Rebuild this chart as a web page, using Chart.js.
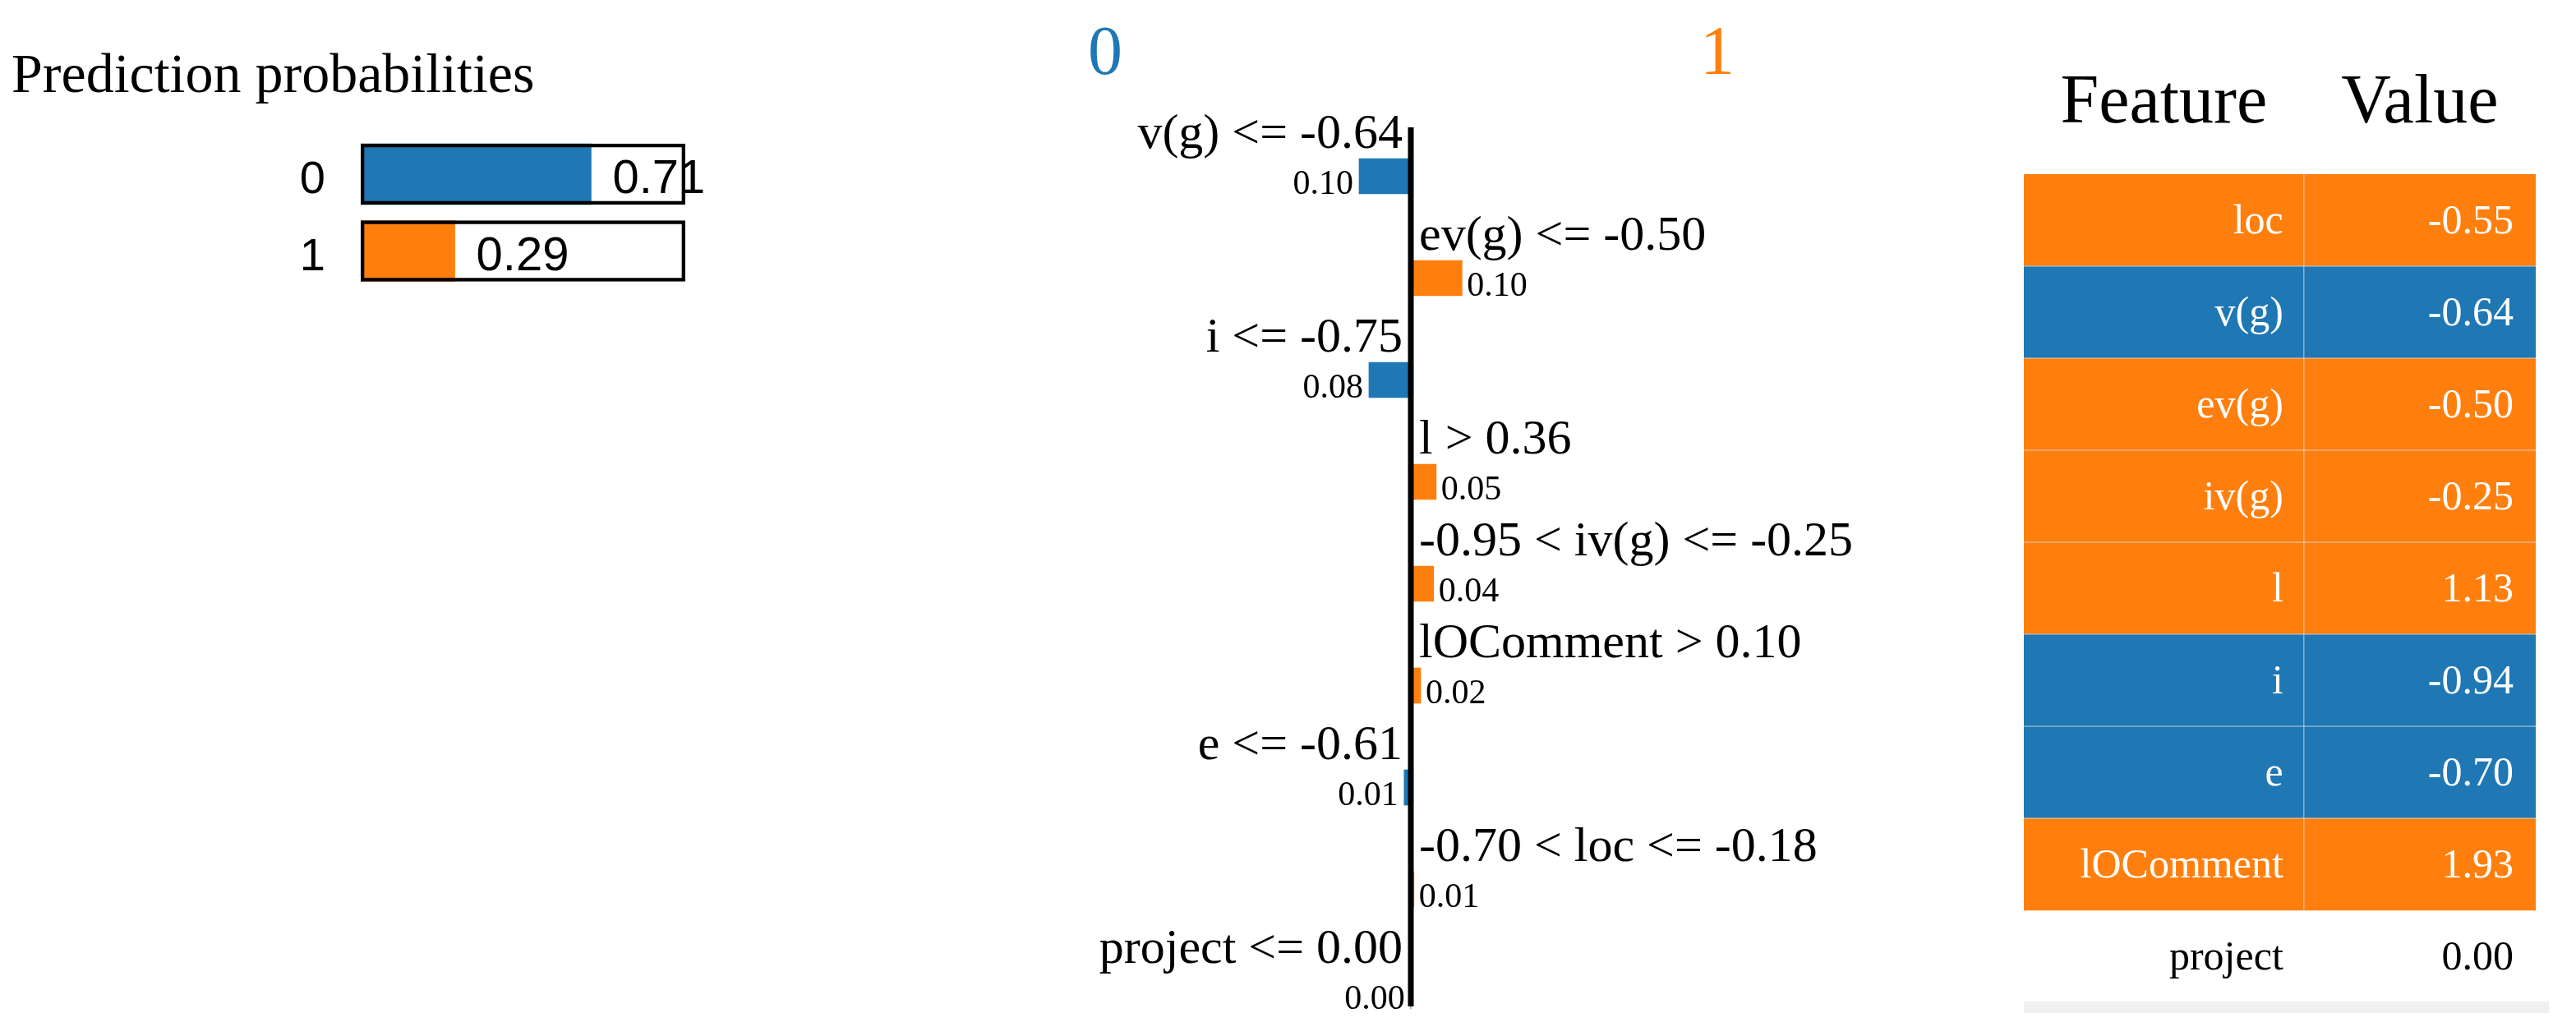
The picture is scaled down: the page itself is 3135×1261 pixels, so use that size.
<!DOCTYPE html>
<html>
<head>
<meta charset="utf-8">
<title>Explicação LIME</title>
<script src="https://cdn.jsdelivr.net/npm/chart.js@4.4.1/dist/chart.umd.min.js"></script>
<style>
    html, body { margin: 0; padding: 0; background: #fff; overflow: hidden; }
    body { width: 3135px; height: 1261px; position: relative; }
    canvas { position: absolute; top: 0; }
    #predChart { left: 0; }
    #expChart { left: 1200px; }
    #tableChart { left: 2400px; }
</style>
</head>
<body>
<canvas id="predChart" width="900" height="400"></canvas>
<canvas id="expChart" width="1080" height="1261"></canvas>
<canvas id="tableChart" width="735" height="1261"></canvas>

<script>
// prediction probabilities
const predClasses = ['0', '1'];
const predProbs = [0.71, 0.29];

// explanation weights (negative = class 0, positive = class 1)
const expLabels = [
    'v(g) <= -0.64',
    'ev(g) <= -0.50',
    'i <= -0.75',
    'l > 0.36',
    '-0.95 < iv(g) <= -0.25',
    'lOComment > 0.10',
    'e <= -0.61',
    '-0.70 < loc <= -0.18',
    'project <= 0.00'
];
const expWeights = [-0.100, 0.099, -0.081, 0.049, 0.044, 0.019, -0.013, 0.006, -0.0004];

// feature / value table
const tableFeatures = ['loc', 'v(g)', 'ev(g)', 'iv(g)', 'l', 'i', 'e', 'lOComment', 'project'];
const tableValues = [-0.55, -0.64, -0.50, -0.25, 1.13, -0.94, -0.70, 1.93, 0.00];
const tableClass = [1, 0, 1, 1, 1, 0, 0, 1, null];

const BLUE = '#1f77b4';
const ORANGE = '#ff7f0e';
const classColors = [BLUE, ORANGE];
const SERIF = '"Liberation Serif", "Times New Roman", serif';
const SANS = '"Liberation Sans", Arial, sans-serif';

const baseOptions = {
    responsive: false,
    animation: false,
    events: [],
    indexAxis: 'y',
    plugins: {
        legend: { display: false },
        tooltip: { enabled: false }
    }
};

// ---------- prediction probabilities ----------
const predText = {
    id: 'predText',
    afterDatasetsDraw: function (chart) {
        const ctx = chart.ctx;
        const x = chart.scales.x;
        const y = chart.scales.y;
        ctx.save();
        ctx.fillStyle = '#000';
        ctx.textAlign = 'left';
        ctx.textBaseline = 'alphabetic';
        ctx.font = '68px ' + SERIF;
        ctx.fillText('Prediction probabilities', 14, 112);

        predClasses.forEach((c, i) => {
            const yc = y.getPixelForValue(i);
            ctx.font = '56px ' + SANS;
            ctx.textAlign = 'right';
            ctx.fillText(c, chart.chartArea.left - 43, yc + 23);
            ctx.font = '58px ' + SANS;
            ctx.textAlign = 'left';
            ctx.fillText(predProbs[i].toFixed(2), x.getPixelForValue(predProbs[i]) + 26, yc + 23);
        });
        ctx.restore();
    }
};

new Chart(document.getElementById('predChart'), {
    type: 'bar',
    data: {
        labels: predClasses,
        datasets: [
            {
                data: predProbs,
                backgroundColor: classColors,
                barThickness: 74,
                grouped: false,
                order: 1
            },
            {
                data: predClasses.map(() => 1),
                backgroundColor: 'rgba(0,0,0,0)',
                borderColor: '#000',
                borderWidth: 4,
                borderSkipped: false,
                barThickness: 74,
                grouped: false,
                order: 0
            }
        ]
    },
    options: Object.assign({}, baseOptions, {
        layout: { padding: { left: 439, right: 66, top: 165.25, bottom: 47.75 } },
        scales: {
            x: { display: false, min: 0, max: 1 },
            y: { display: false }
        }
    }),
    plugins: [predText]
});

// ---------- explanation ----------
const expText = {
    id: 'expText',
    afterDatasetsDraw: function (chart) {
        const ctx = chart.ctx;
        const x = chart.scales.x;
        const y = chart.scales.y;
        const x0 = x.getPixelForValue(0);
        const half = 21.5;
        ctx.save();

        // class headers
        ctx.font = '84px ' + SERIF;
        ctx.textAlign = 'center';
        ctx.textBaseline = 'alphabetic';
        ctx.fillStyle = BLUE;
        ctx.fillText('0', x0 - 372, 90);
        ctx.fillStyle = ORANGE;
        ctx.fillText('1', x0 + 373, 90);

        // zero axis
        const top = y.getPixelForValue(0) - half - 38;
        const bottom = y.getPixelForValue(expLabels.length - 1) + half - 3;
        ctx.fillStyle = '#000';
        ctx.fillRect(x0 - 3.5, top, 7, bottom - top);

        expLabels.forEach((label, i) => {
            const w = expWeights[i];
            const yc = y.getPixelForValue(i);
            const xe = x.getPixelForValue(w);
            ctx.fillStyle = '#000';
            ctx.font = '60px ' + SERIF;
            ctx.textAlign = w < 0 ? 'right' : 'left';
            ctx.fillText(label, w < 0 ? x0 - 10 : x0 + 10, yc - half - 13);
            ctx.font = '42px ' + SERIF;
            ctx.fillText(Math.abs(w).toFixed(2), w < 0 ? xe - 7 : xe + 6, yc + half);
        });
        ctx.restore();
    }
};

const expPxPerUnit = 630;
const expZero = 517;

new Chart(document.getElementById('expChart'), {
    type: 'bar',
    data: {
        labels: expLabels,
        datasets: [{
            data: expWeights,
            backgroundColor: expWeights.map(w => w < 0 ? BLUE : ORANGE),
            barThickness: 43,
            clip: false
        }]
    },
    options: Object.assign({}, baseOptions, {
        layout: { padding: { left: 0, right: 0, top: 214.5, bottom: 54.5 } },
        scales: {
            x: { display: false, min: -expZero / expPxPerUnit, max: (1080 - expZero) / expPxPerUnit },
            y: { display: false, offset: false }
        }
    }),
    plugins: [expText]
});

// ---------- feature / value table ----------
const colSplit = 0.547;

const tableText = {
    id: 'tableText',
    afterDatasetsDraw: function (chart) {
        const ctx = chart.ctx;
        const x = chart.scales.x;
        const y = chart.scales.y;
        const area = chart.chartArea;
        const xs = x.getPixelForValue(colSplit);
        const rowH = y.getPixelForValue(1) - y.getPixelForValue(0);
        ctx.save();

        // headers
        ctx.fillStyle = '#000';
        ctx.font = '84px ' + SERIF;
        ctx.textAlign = 'center';
        ctx.fillText('Feature', (area.left + xs) / 2, 149);
        ctx.fillText('Value', (xs + area.right) / 2, 149);

        // cell borders
        ctx.strokeStyle = 'rgba(215,215,215,0.6)';
        ctx.lineWidth = 1.5;
        let lastColored = 0;
        tableFeatures.forEach((f, i) => {
            if (tableClass[i] !== null) lastColored = i;
        });
        for (let i = 1; i <= lastColored; i++) {
            const yb = y.getPixelForValue(i) - rowH / 2;
            ctx.beginPath();
            ctx.moveTo(area.left, yb);
            ctx.lineTo(area.right, yb);
            ctx.stroke();
        }
        ctx.beginPath();
        ctx.moveTo(xs, area.top);
        ctx.lineTo(xs, y.getPixelForValue(lastColored) + rowH / 2);
        ctx.stroke();

        // cell text
        ctx.font = '50px ' + SERIF;
        ctx.textAlign = 'right';
        tableFeatures.forEach((f, i) => {
            const yc = y.getPixelForValue(i);
            ctx.fillStyle = tableClass[i] === null ? '#000' : '#fff';
            ctx.fillText(f, xs - 25, yc + 16);
            ctx.fillText(tableValues[i].toFixed(2), area.right - 27, yc + 16);
        });

        // scroll strip under the table
        ctx.fillStyle = '#f0f0f0';
        ctx.fillRect(area.left, area.bottom - 1, area.right - area.left + 16, 14);
        ctx.restore();
    }
};

new Chart(document.getElementById('tableChart'), {
    type: 'bar',
    data: {
        labels: tableFeatures,
        datasets: [{
            data: tableFeatures.map(() => 1),
            backgroundColor: tableClass.map(c => c === null ? 'rgba(0,0,0,0)' : classColors[c]),
            barPercentage: 1,
            categoryPercentage: 1
        }]
    },
    options: Object.assign({}, baseOptions, {
        layout: { padding: { left: 63, right: 49, top: 212, bottom: 41 } },
        scales: {
            x: { display: false, min: 0, max: 1 },
            y: { display: false }
        }
    }),
    plugins: [tableText]
});
</script>
</body>
</html>
